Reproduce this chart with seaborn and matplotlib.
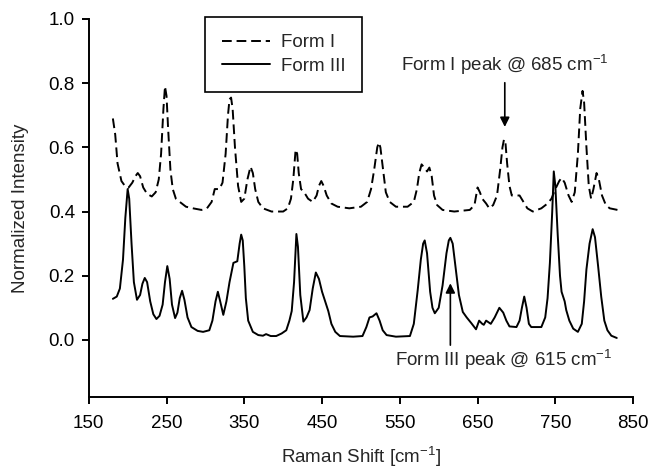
import numpy as np
import pandas as pd
import matplotlib
matplotlib.use("Agg")
import matplotlib.pyplot as plt
import seaborn as sns

# Raman spectra
form1_x = [181, 184, 187, 192, 197, 201, 206, 210, 213, 216, 220, 225, 231, 236, 240, 243, 246, 248, 250,
           252, 255, 258, 262, 267, 275, 284, 295, 302, 308, 312, 318, 322, 326, 329, 331, 333, 335, 338,
           342, 346, 350, 354, 358, 361, 364, 368, 374, 385, 400, 406, 410, 413, 416, 418, 420, 423, 427,
           432, 438, 443, 446, 449, 452, 456, 462, 470, 485, 500, 508, 513, 517, 521, 523, 525, 528, 532,
           537, 545, 560, 568, 572, 575, 578, 582, 585, 588, 591, 594, 598, 605, 620, 640, 646, 650, 653,
           656, 661, 665, 670, 675, 679, 682, 684, 686, 688, 691, 694, 699, 704, 709, 714, 721, 732, 740,
           745, 750, 755, 758, 762, 767, 771, 775, 779, 782, 785, 787, 790, 793, 796, 799, 803, 806, 810,
           815, 820, 830]
form1_y = [0.69, 0.64, 0.55, 0.495, 0.478, 0.474, 0.49, 0.51, 0.52, 0.51, 0.475, 0.455, 0.447, 0.46, 0.50,
           0.58, 0.72, 0.79, 0.76, 0.66, 0.53, 0.47, 0.44, 0.43, 0.415, 0.41, 0.405, 0.41, 0.43, 0.47, 0.47,
           0.49, 0.58, 0.70, 0.75, 0.755, 0.72, 0.60, 0.48, 0.43, 0.44, 0.50, 0.54, 0.52, 0.47, 0.43, 0.41,
           0.40, 0.40, 0.41, 0.44, 0.50, 0.593, 0.58, 0.52, 0.47, 0.46, 0.44, 0.43, 0.45, 0.48, 0.495, 0.48,
           0.45, 0.425, 0.415, 0.41, 0.415, 0.43, 0.47, 0.53, 0.60, 0.615, 0.60, 0.54, 0.46, 0.43, 0.415,
           0.415, 0.43, 0.47, 0.52, 0.547, 0.535, 0.525, 0.537, 0.51, 0.45, 0.42, 0.405, 0.40, 0.405, 0.42,
           0.475, 0.46, 0.44, 0.425, 0.41, 0.42, 0.45, 0.53, 0.60, 0.625, 0.61, 0.55, 0.48, 0.45, 0.45, 0.45,
           0.43, 0.41, 0.40, 0.41, 0.425, 0.44, 0.47, 0.495, 0.505, 0.49, 0.45, 0.43, 0.46, 0.58, 0.72, 0.776,
           0.74, 0.60, 0.48, 0.44, 0.47, 0.52, 0.50, 0.45, 0.42, 0.41, 0.405]

form3_x = [181, 186, 190, 194, 197, 200, 202, 205, 208, 212, 216, 219, 222, 225, 229, 233, 237, 241, 245,
           248, 251, 254, 257, 261, 264, 267, 270, 273, 277, 282, 290, 297, 305, 309, 313, 316, 319, 323,
           327, 331, 336, 341, 344, 346, 348, 350, 352, 355, 361, 368, 374, 378, 384, 391, 398, 404, 408,
           411, 414, 417, 419, 422, 426, 430, 434, 438, 442, 446, 450, 454, 458, 462, 467, 473, 490, 502,
           507, 511, 515, 520, 524, 528, 533, 545, 563, 568, 573, 577, 580, 582, 585, 589, 592, 595, 600,
           605, 610, 613, 615, 618, 622, 626, 631, 636, 642, 648, 652, 656, 658, 661, 664, 667, 672, 678,
           683, 687, 691, 700, 704, 707, 710, 713, 716, 719, 732, 737, 740, 743, 746, 748, 750, 753, 756,
           758, 762, 764, 768, 773, 779, 784, 787, 790, 794, 798, 801, 805, 809, 813, 817, 822, 829]
form3_y = [0.128, 0.135, 0.16, 0.25, 0.38, 0.47, 0.44, 0.30, 0.18, 0.125, 0.14, 0.175, 0.193, 0.18, 0.12,
           0.08, 0.065, 0.075, 0.11, 0.18, 0.23, 0.19, 0.11, 0.068, 0.085, 0.13, 0.153, 0.125, 0.07, 0.04,
           0.028, 0.025, 0.03, 0.06, 0.12, 0.15, 0.12, 0.078, 0.12, 0.18, 0.24, 0.245, 0.30, 0.328, 0.31,
           0.23, 0.13, 0.06, 0.025, 0.015, 0.013, 0.018, 0.012, 0.012, 0.02, 0.03, 0.06, 0.09, 0.18, 0.33,
           0.29, 0.14, 0.057, 0.07, 0.093, 0.16, 0.21, 0.19, 0.15, 0.12, 0.09, 0.05, 0.025, 0.012, 0.01,
           0.012, 0.04, 0.07, 0.073, 0.083, 0.06, 0.03, 0.015, 0.01, 0.012, 0.05, 0.155, 0.25, 0.30, 0.31,
           0.27, 0.15, 0.10, 0.083, 0.10, 0.17, 0.27, 0.31, 0.318, 0.30, 0.22, 0.14, 0.087, 0.07, 0.052,
           0.033, 0.06, 0.05, 0.047, 0.06, 0.055, 0.05, 0.07, 0.10, 0.085, 0.06, 0.042, 0.04, 0.06, 0.10,
           0.135, 0.10, 0.05, 0.04, 0.04, 0.07, 0.13, 0.24, 0.40, 0.525, 0.48, 0.33, 0.20, 0.15, 0.12,
           0.093, 0.06, 0.035, 0.025, 0.05, 0.12, 0.22, 0.30, 0.345, 0.32, 0.23, 0.135, 0.06, 0.03, 0.013,
           0.006]

x_ticks = [150, 250, 350, 450, 550, 650, 750, 850]
y_ticks = [0.0, 0.2, 0.4, 0.6, 0.8, 1.0]

sns.set_style("ticks")
plt.rcParams['font.family'] = ['Liberation Sans', 'DejaVu Sans']
plt.rcParams['mathtext.default'] = 'regular'
FS = 13.5

df1 = pd.DataFrame({'shift': form1_x, 'intensity': form1_y})
df3 = pd.DataFrame({'shift': form3_x, 'intensity': form3_y})

fig = plt.figure(figsize=(6.48, 4.69), dpi=100)
ax = fig.add_axes([0.137, 0.1535, 0.840, 0.806])

sns.lineplot(data=df1, x='shift', y='intensity', ax=ax, color='black', lw=1.4,
             dashes=False, label='Form I', estimator=None, sort=False)
ax.lines[-1].set_dashes((5, 2.5))
sns.lineplot(data=df3, x='shift', y='intensity', ax=ax, color='black', lw=1.4,
             label='Form III', estimator=None, sort=False)

ax.set_xlim(150, 850)
ax.set_ylim(-0.178, 1.0)
ax.set_xticks(x_ticks)
ax.set_yticks(y_ticks)
ax.set_yticklabels(['{:.1f}'.format(v) for v in y_ticks])
ax.tick_params(labelsize=FS, width=1.4, length=5, direction='out', colors='black')
ax.tick_params(axis='x', pad=8)
ax.tick_params(axis='y', pad=5)
for s in ['left', 'bottom']:
    ax.spines[s].set_linewidth(1.4)
    ax.spines[s].set_color('black')
sns.despine(ax=ax)

ax.set_xlabel('Raman Shift [cm$^{-1}$]', fontsize=FS, labelpad=9)
ax.set_ylabel('Normalized Intensity', fontsize=FS, labelpad=14)

# annotations
ax.annotate('', xy=(685, 0.655), xytext=(685, 0.81),
            arrowprops=dict(arrowstyle='-|>', color='black', lw=1.2, mutation_scale=14))
ax.text(685, 0.858, 'Form I peak @ 685 cm$^{-1}$', fontsize=FS, ha='center', va='center')
ax.annotate('', xy=(615, 0.185), xytext=(615, -0.025),
            arrowprops=dict(arrowstyle='-|>', color='black', lw=1.2, mutation_scale=14))
ax.text(684, -0.063, 'Form III peak @ 615 cm$^{-1}$', fontsize=FS, ha='center', va='center')

leg = ax.legend(loc='upper left', bbox_to_anchor=(0.213, 1.005), borderaxespad=0,
                fontsize=FS, fancybox=False, framealpha=1, edgecolor='black',
                handlelength=2.6, handletextpad=0.55, borderpad=0.9, labelspacing=0.35)
leg.get_frame().set_linewidth(1.2)

fig.savefig('out.png', dpi=100)
